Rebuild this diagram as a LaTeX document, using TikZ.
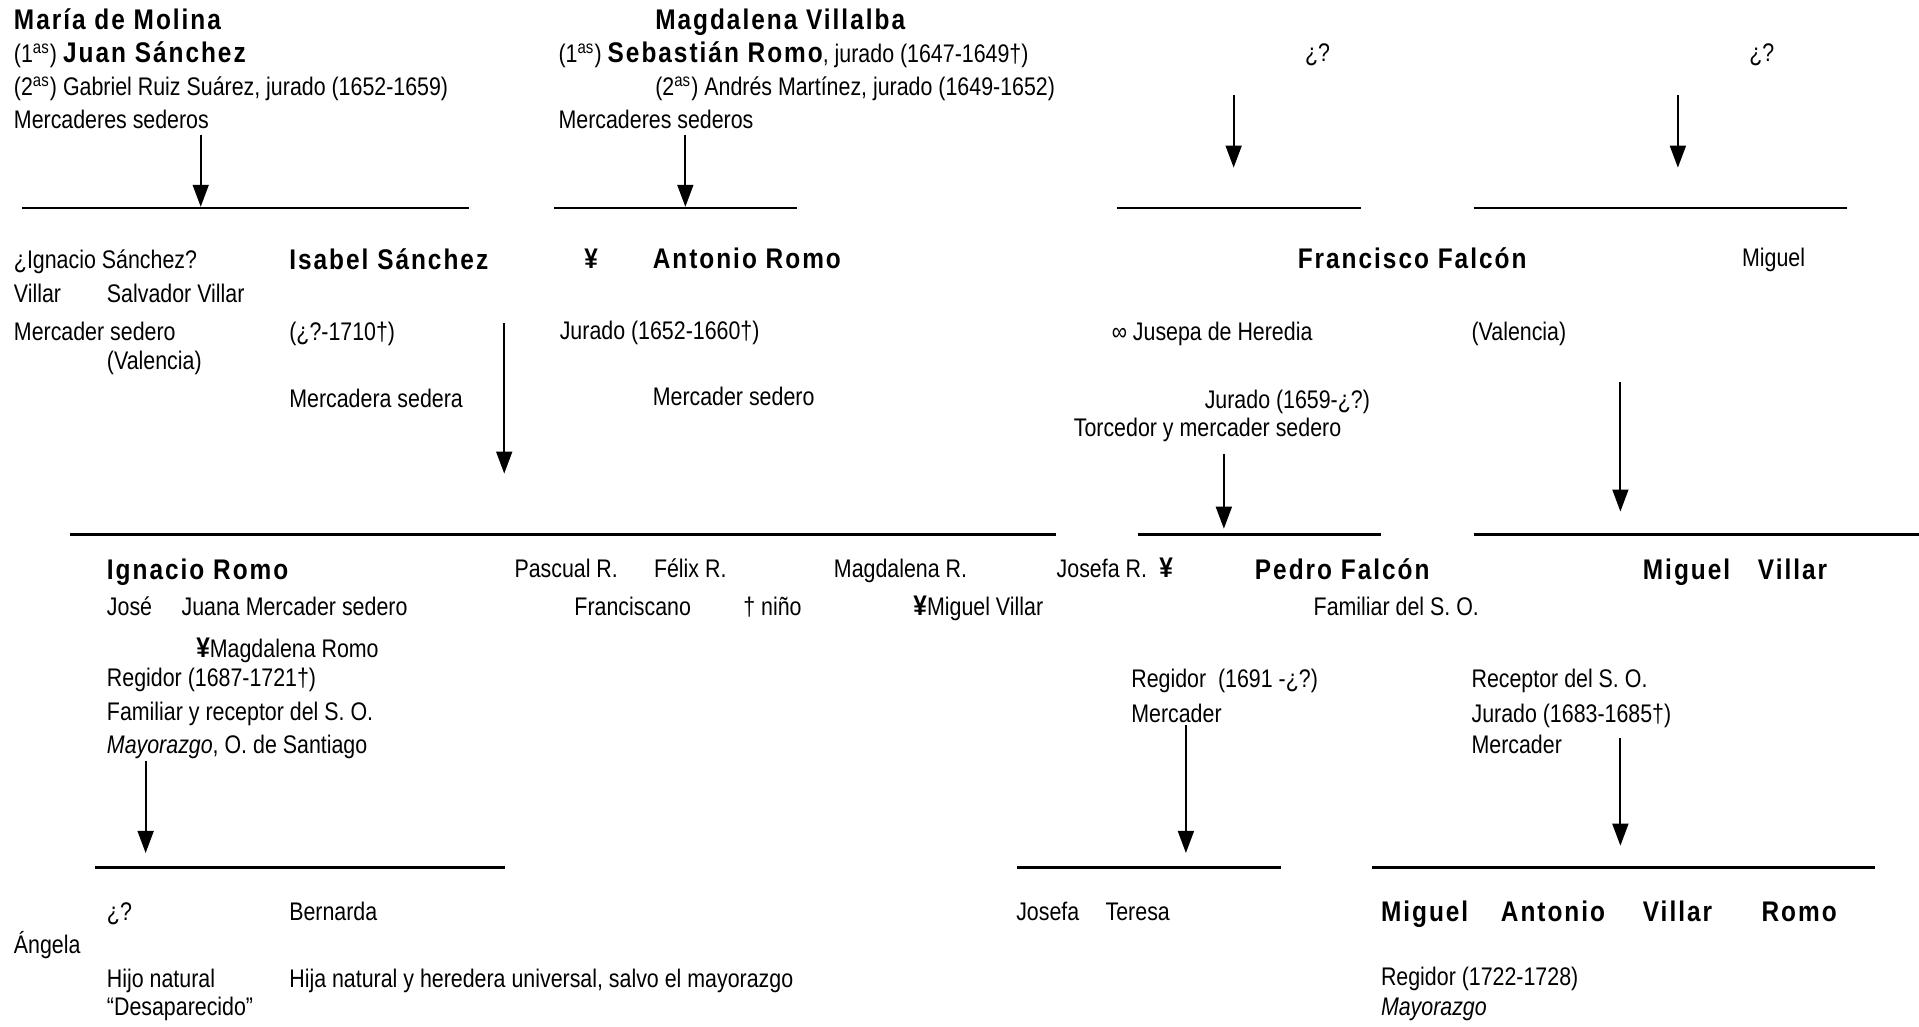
\documentclass[tikz,border=0pt]{standalone}
\usepackage{fontspec}
\setmainfont{Liberation Sans}[FakeStretch=0.84]
\newfontfamily\hvfam{Liberation Sans}[FakeStretch=0.86,LetterSpace=7]
\usetikzlibrary{arrows.meta}
\newcommand\Bn[1]{{\fontsize{11.6}{13}\hvfam\bfseries #1}}
\newcommand\yen{{\fontsize{11.6}{13}\hvfam\bfseries ¥}}
\tikzset{
  txt/.style={anchor=base west,inner sep=0pt,font=\fontsize{10.4}{12}\selectfont},
  hl/.style={line width=1.1pt},
  arr/.style={line width=0.8pt,-{Triangle[length=9pt,width=6.5pt]}}
}
\begin{document}
\begin{tikzpicture}[x=0.5pt,y=-0.5pt]
\path[use as bounding box,fill=white] (0,0) rectangle (1568,839);
% ---------- top generation ----------
\node[txt] (mm) at (11,24.5) {\Bn{María de Molina}};
\node[txt] (js) at (11,51) {(1\textsuperscript{as}) \Bn{Juan Sánchez}};
\node[txt] (gr) at (11,78) {(2\textsuperscript{as}) Gabriel Ruiz Suárez, jurado (1652-1659)};
\node[txt] (ms1) at (11,105) {Mercaderes sederos};
\coordinate (a1s) at (164,110); \coordinate (a1e) at (164,169);
\coordinate (l1a) at (18,170); \coordinate (l1b) at (383,170);
\node[txt] (mv) at (535,24.5) {\Bn{Magdalena Villalba}};
\node[txt] (sr) at (456,51) {(1\textsuperscript{as}) \Bn{Sebastián Romo}, jurado (1647-1649†)};
\node[txt] (am) at (535,78) {(2\textsuperscript{as}) Andrés Martínez, jurado (1649-1652)};
\node[txt] (ms2) at (456,105) {Mercaderes sederos};
\coordinate (a2s) at (560,110); \coordinate (a2e) at (560,169);
\coordinate (l2a) at (453,170); \coordinate (l2b) at (651,170);
\node[txt] (q1) at (1066,50) {¿?};
\coordinate (a3s) at (1008,78); \coordinate (a3e) at (1008,137);
\coordinate (l3a) at (913,170); \coordinate (l3b) at (1112,170);
\node[txt] (q2) at (1429,50) {¿?};
\coordinate (a4s) at (1371,78); \coordinate (a4e) at (1371,137);
\coordinate (l4a) at (1204,170); \coordinate (l4b) at (1509,170);
% ---------- second generation ----------
\node[txt] (is) at (11,219) {¿Ignacio Sánchez?};
\node[txt] (vi) at (11,247) {Villar};
\node[txt] (sv) at (87,247) {Salvador Villar};
\node[txt] (msd) at (11,278) {Mercader sedero};
\node[txt] (va1) at (87,302) {(Valencia)};
\node[txt] (isa) at (236,220.5) {\Bn{Isabel Sánchez}};
\node[txt] (isd) at (236,278) {(¿?-1710†)};
\node[txt] (isp) at (236,333) {Mercadera sedera};
\coordinate (a5s) at (412,264); \coordinate (a5e) at (412,387);
\node[txt] (y1) at (477,219.5) {\yen};
\node[txt] (ar) at (533,219.5) {\Bn{Antonio Romo}};
\node[txt] (arj) at (457,277) {Jurado (1652-1660†)};
\node[txt] (arp) at (533,331) {Mercader sedero};
\node[txt] (ff) at (1060,219.5) {\Bn{Francisco Falcón}};
\node[txt] (mi) at (1423,218) {Miguel};
\node[txt] (jh) at (908,278) {∞ Jusepa de Heredia};
\node[txt] (va2) at (1202,278) {(Valencia)};
\node[txt] (ffj) at (984,334) {Jurado (1659-¿?)};
\node[txt] (fft) at (877,357) {Torcedor y mercader sedero};
\coordinate (a6s) at (1000,371); \coordinate (a6e) at (1000,432);
\coordinate (a7s) at (1324,312); \coordinate (a7e) at (1324,418);
\coordinate (l5a) at (57,437); \coordinate (l5b) at (863,437);
\coordinate (l6a) at (930,437); \coordinate (l6b) at (1128,437);
\coordinate (l7a) at (1204,437); \coordinate (l7b) at (1568,437);
% ---------- third generation ----------
\node[txt] (ir) at (87,473.5) {\Bn{Ignacio Romo}};
\node[txt] (pr) at (420,472) {Pascual R.};
\node[txt] (fr) at (534,472) {Félix R.};
\node[txt] (mr) at (681,472) {Magdalena R.};
\node[txt] (jr) at (863,472) {Josefa R.};
\node[txt] (y2) at (947,472) {\yen};
\node[txt] (pf) at (1025,473.5) {\Bn{Pedro Falcón}};
\node[txt] (mv1) at (1342,473.5) {\Bn{Miguel}};
\node[txt] (mv2) at (1436,473.5) {\Bn{Villar}};
\node[txt] (jo) at (87,503) {José};
\node[txt] (ju) at (148,503) {Juana Mercader sedero};
\node[txt] (fc) at (469,503) {Franciscano};
\node[txt] (ni) at (607,503) {† niño};
\node[txt] (mvl) at (746,503) {\yen Miguel Villar};
\node[txt] (fso) at (1073,503) {Familiar del S. O.};
\node[txt] (mro) at (160,537) {\yen Magdalena Romo};
\node[txt] (ir1) at (87,561) {Regidor (1687-1721†)};
\node[txt] (ir2) at (87,589) {Familiar y receptor del S. O.};
\node[txt] (ir3) at (87,616) {\textit{Mayorazgo}, O. de Santiago};
\node[txt] (pf1) at (924,562) {Regidor\ \ (1691 -¿?)};
\node[txt] (pf2) at (924,590) {Mercader};
\node[txt] (mv3) at (1202,562) {Receptor del S. O.};
\node[txt] (mv4) at (1202,590) {Jurado (1683-1685†)};
\node[txt] (mv5) at (1202,616) {Mercader};
\coordinate (a8s) at (119,622); \coordinate (a8e) at (119,697);
\coordinate (a9s) at (969,592); \coordinate (a9e) at (969,697);
\coordinate (a10s) at (1324,603); \coordinate (a10e) at (1324,691);
\coordinate (l8a) at (78,709); \coordinate (l8b) at (413,709);
\coordinate (l9a) at (831,709); \coordinate (l9b) at (1047,709);
\coordinate (l10a) at (1121,709); \coordinate (l10b) at (1532,709);
% ---------- fourth generation ----------
\node[txt] (q3) at (87,752) {¿?};
\node[txt] (be) at (236,752) {Bernarda};
\node[txt] (an) at (11,779) {Ángela};
\node[txt] (hn) at (87,807) {Hijo natural};
\node[txt] (hj) at (236,807) {Hija natural y heredera universal, salvo el mayorazgo};
\node[txt] (de) at (87,830) {“Desaparecido”};
\node[txt] (jf) at (830,752) {Josefa};
\node[txt] (te) at (903,752) {Teresa};
\node[txt] (ma1) at (1128,753) {\Bn{Miguel}};
\node[txt] (ma2) at (1226,753) {\Bn{Antonio}};
\node[txt] (ma3) at (1342,753) {\Bn{Villar}};
\node[txt] (ma4) at (1439,753) {\Bn{Romo}};
\node[txt] (mar) at (1128,805) {Regidor (1722-1728)};
\node[txt] (may) at (1128,830) {\textit{Mayorazgo}};
% ---------- connectors ----------
\foreach \a in {a1,a2,a3,a4,a5,a6,a7,a8,a9,a10} \draw[arr] (\a s) -- (\a e);
\foreach \l in {l1,l2,l3,l4,l5,l6,l7,l8,l9,l10} \draw[hl] (\l a) -- (\l b);
\end{tikzpicture}
\end{document}
